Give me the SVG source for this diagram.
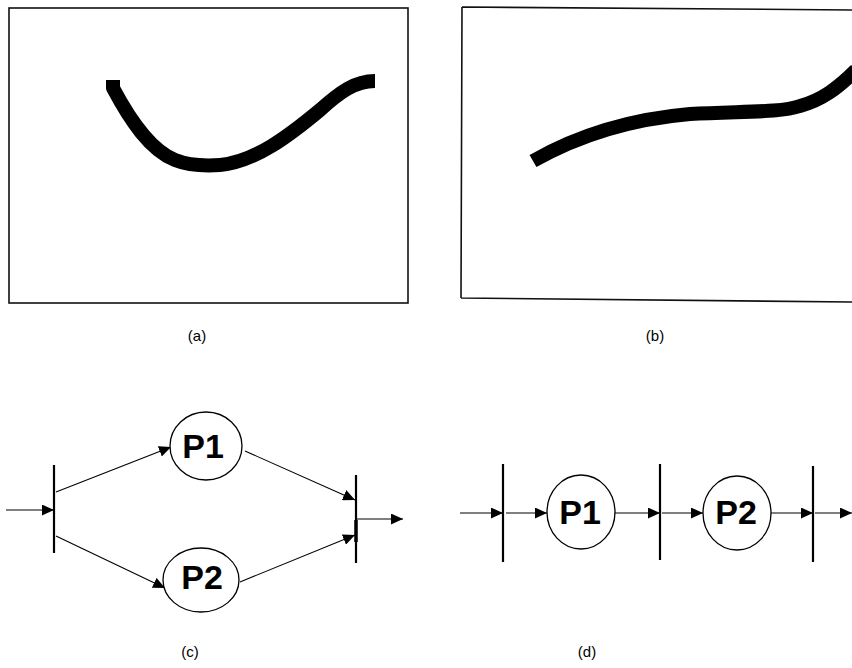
<svg xmlns="http://www.w3.org/2000/svg" width="852" height="668" viewBox="0 0 852 668">
<style>
.frame{fill:none;stroke:#111;stroke-width:1.6}
.stroke{fill:none;stroke:#000;stroke-width:14;stroke-linecap:butt;stroke-linejoin:round}
.bar{stroke:#000;stroke-width:2.2}
.edge{stroke:#000;stroke-width:1.1;fill:none}
.node{fill:#fff;stroke:#000;stroke-width:1.3}
.lbl{font-family:"Liberation Sans",Arial,sans-serif;font-weight:bold;font-size:34px;fill:#000;text-anchor:middle}
.cap{font-family:"Liberation Sans",Arial,sans-serif;font-size:15px;fill:#000;text-anchor:middle}
</style>
<defs>
<marker id="ah" markerUnits="userSpaceOnUse" markerWidth="13" markerHeight="11" refX="12" refY="5.5" orient="auto">
<path d="M0,0 L12,5.5 L0,11 Z" fill="#000"/>
</marker>
</defs>

<g id="panel-a">
<rect class="frame" x="9" y="8" width="399" height="295"/>
<path class="stroke" d="M113,80 L113,88 C130,120 150,150 175,160 C190,166 205,166 220,165 C255,162 290,135 320,110 C340,92 355,81 375,81"/>
</g>

<g id="panel-b">
<path class="frame" d="M462,7 L852,10 M461,298 L852,302 M462,7 L461,298"/>
<path class="stroke" d="M533,161 C570,140 620,120 690,114 C740,111 780,113 800,106 C822,100 838,88 856,70"/>
</g>

<text class="cap" x="197" y="341">(a)</text>
<text class="cap" x="655" y="341">(b)</text>
<text class="cap" x="190" y="657">(c)</text>
<text class="cap" x="587" y="657">(d)</text>

<g id="connectors">
<line class="edge" x1="6" y1="510" x2="54" y2="510" marker-end="url(#ah)"/>
<line class="edge" x1="56" y1="492" x2="171" y2="447" marker-end="url(#ah)"/>
<line class="edge" x1="56" y1="536" x2="165" y2="588" marker-end="url(#ah)"/>
<line class="edge" x1="245" y1="451" x2="355" y2="500" marker-end="url(#ah)"/>
<line class="edge" x1="240" y1="582" x2="355" y2="535" marker-end="url(#ah)"/>
<line class="edge" x1="356" y1="519" x2="403" y2="519" marker-end="url(#ah)"/>
<line class="edge" x1="460" y1="513" x2="503" y2="513" marker-end="url(#ah)"/>
<line class="edge" x1="506" y1="513" x2="547" y2="513" marker-end="url(#ah)"/>
<line class="edge" x1="615" y1="513" x2="660" y2="513" marker-end="url(#ah)"/>
<line class="edge" x1="662" y1="513" x2="703" y2="513" marker-end="url(#ah)"/>
<line class="edge" x1="771" y1="513" x2="813" y2="513" marker-end="url(#ah)"/>
<line class="edge" x1="815" y1="513" x2="852" y2="513" marker-end="url(#ah)"/>
</g>

<g id="c-bar-in"><line class="bar" x1="54" y1="465" x2="54" y2="553"/></g>
<g id="c-bar-out">
<line class="bar" x1="356" y1="475" x2="356" y2="563"/>
<line class="bar" x1="356" y1="520" x2="356" y2="542" style="stroke-width:3.5"/>
</g>
<g id="c-P1"><ellipse class="node" cx="206" cy="446" rx="36" ry="34"/><text class="lbl" x="203" y="458">P1</text></g>
<g id="c-P2"><ellipse class="node" cx="201" cy="580" rx="38" ry="32"/><text class="lbl" x="202" y="589">P2</text></g>

<g id="d-bar1"><line class="bar" x1="503" y1="464" x2="503" y2="562"/></g>
<g id="d-P1"><ellipse class="node" cx="581" cy="512" rx="34" ry="37"/><text class="lbl" x="580" y="524">P1</text></g>
<g id="d-bar2"><line class="bar" x1="660" y1="464" x2="660" y2="560"/></g>
<g id="d-P2"><ellipse class="node" cx="737" cy="513" rx="34" ry="37"/><text class="lbl" x="736" y="524">P2</text></g>
<g id="d-bar3"><line class="bar" x1="813" y1="466" x2="813" y2="562"/></g>
</svg>
